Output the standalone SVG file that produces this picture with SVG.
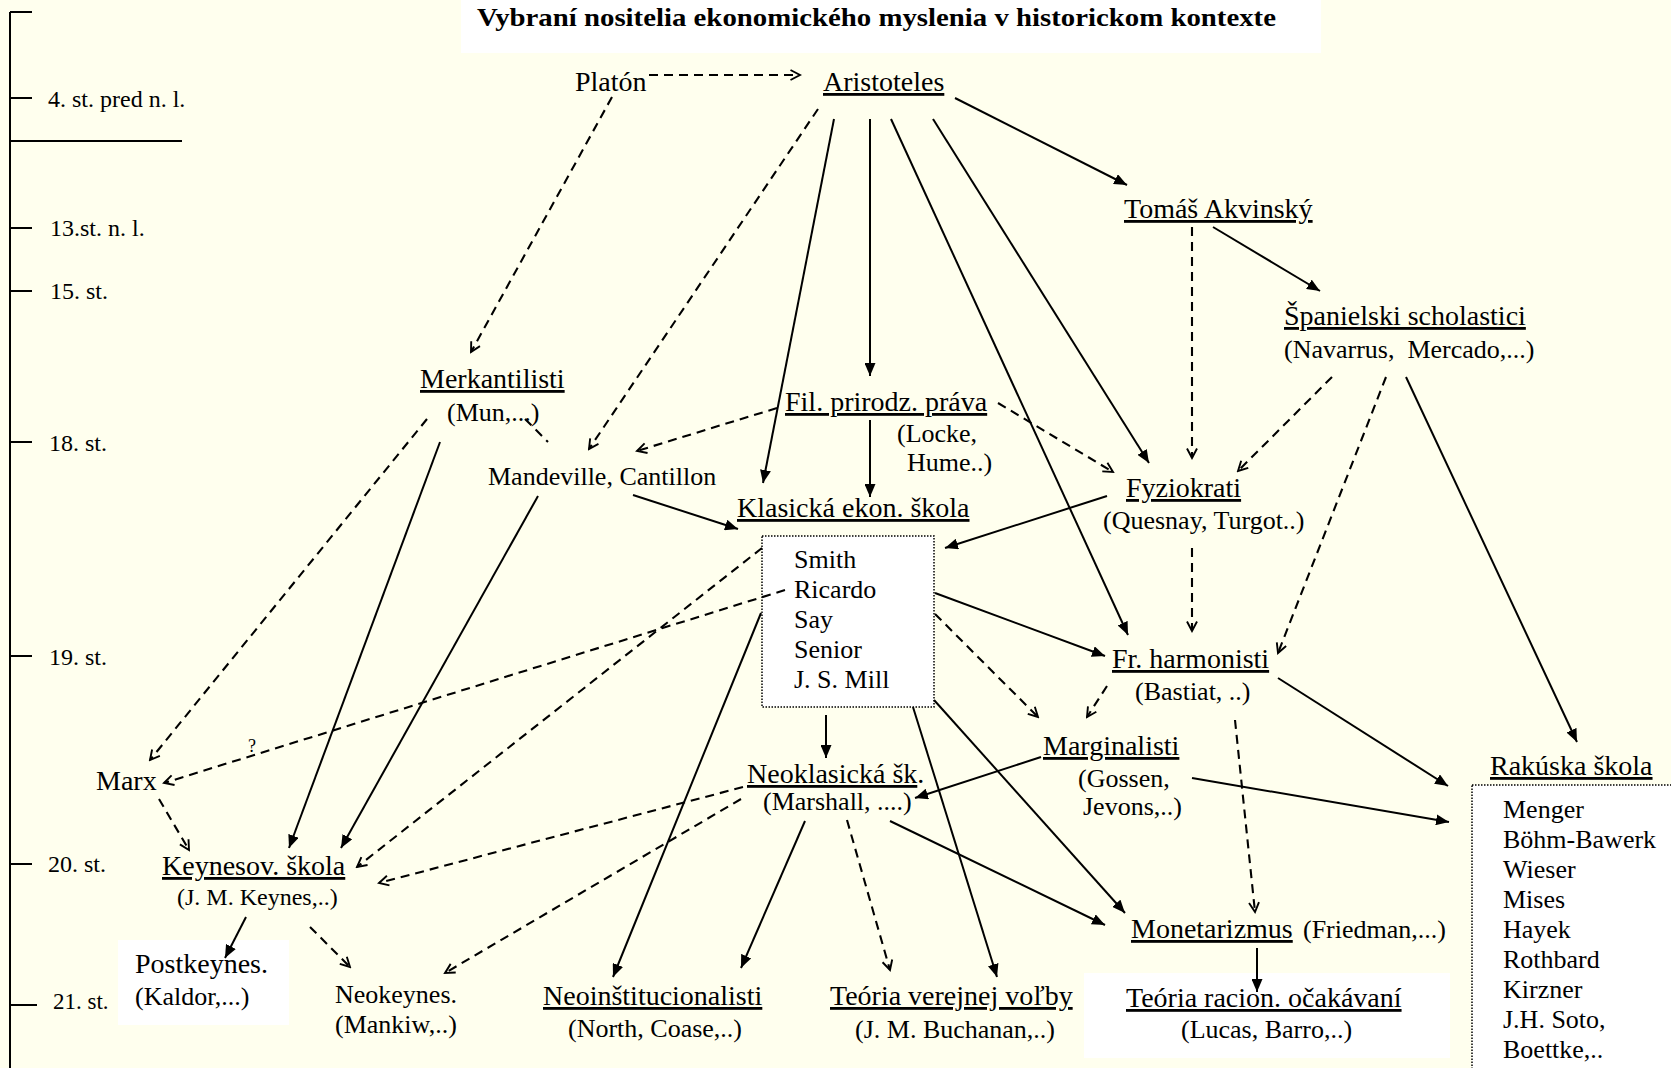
<svg xmlns="http://www.w3.org/2000/svg" width="1671" height="1068" viewBox="0 0 1671 1068">
<style>
text{font-family:"Liberation Serif","Times New Roman",serif;fill:#000}
.m{font-size:28px}
.s{font-size:26px}
.t{font-size:24px}
.u{text-decoration:underline}
.c{stroke:#000;stroke-width:2;fill:none}
.d{stroke-dasharray:9 6;stroke-width:2.1}
.ax{stroke:#000;stroke-width:2;fill:none}
.box{fill:#fff;stroke:#000;stroke-width:1.5;stroke-dasharray:1.5 1.5}
</style>
<defs>
<marker id="ah" markerUnits="userSpaceOnUse" markerWidth="13" markerHeight="11" viewBox="0 0 13 11" refX="13" refY="5.5" orient="auto"><path d="M0,0 L13,5.5 L0,11 Z" fill="#000"/></marker>
<marker id="ao" markerUnits="userSpaceOnUse" markerWidth="13" markerHeight="13" viewBox="-1 -1 13 13" refX="10" refY="5.5" orient="auto"><path d="M0.5,0.5 L10,5.5 L0.5,10.5" fill="none" stroke="#000" stroke-width="1.9"/></marker>
</defs>
<rect x="0" y="0" width="1671" height="1068" fill="#FFFFEE"/>

<g id="timeline">
<path class="ax" d="M10,12 V1068 M10,12 H32 M10,98 H32 M10,141 H182 M10,228 H32 M10,291 H32 M10,442 H32 M10,656 H32 M10,864 H32 M10,1005 H37"/>
<text class="t" x="48" y="107">4. st. pred n. l.</text>
<text class="t" x="50" y="236">13.st. n. l.</text>
<text class="t" x="50" y="299">15. st.</text>
<text class="t" x="49" y="451">18. st.</text>
<text class="t" x="49" y="665">19. st.</text>
<text class="t" x="48" y="872">20. st.</text>
<text class="t" x="53" y="1009" style="font-size:23px">21. st.</text>
</g>

<g id="title">
<rect x="461" y="0" width="860" height="53" fill="#fff"/>
<text x="477" y="26" style="font-size:26px;font-weight:bold" textLength="799" lengthAdjust="spacingAndGlyphs">Vybraní nositelia ekonomického myslenia v historickom kontexte</text>
</g>

<g id="platon"><text class="m" x="575" y="91">Platón</text></g>
<g id="aristoteles"><text class="m u" x="823" y="91">Aristoteles</text></g>
<g id="tomas"><text class="m u" x="1124" y="218">Tomáš Akvinský</text></g>
<g id="spanielski">
<text class="m u" x="1284" y="325">Španielski scholastici</text>
<text class="s" x="1284" y="358" xml:space="preserve">(Navarrus,  Mercado,...)</text>
</g>
<g id="merkantilisti">
<text class="m u" x="420" y="388">Merkantilisti</text>
<text class="s" x="447" y="421">(Mun,...)</text>
</g>
<g id="filozofia">
<text class="m u" x="785" y="411">Fil. prirodz. práva</text>
<text class="s" x="897" y="442">(Locke,</text>
<text class="s" x="907" y="471">Hume..)</text>
</g>
<g id="mandeville"><text class="s" x="488" y="485">Mandeville, Cantillon</text></g>
<g id="klasicka">
<text class="m u" x="737" y="517">Klasická ekon. škola</text>
<rect class="box" x="762" y="536" width="172" height="171"/>
<text class="s" x="794" y="568">Smith</text>
<text class="s" x="794" y="598">Ricardo</text>
<text class="s" x="794" y="628">Say</text>
<text class="s" x="794" y="658">Senior</text>
<text class="s" x="794" y="688">J. S. Mill</text>
</g>
<g id="fyziokrati">
<text class="m u" x="1126" y="497">Fyziokrati</text>
<text class="s" x="1103" y="529">(Quesnay, Turgot..)</text>
</g>
<g id="harmonisti">
<text class="m u" x="1112" y="668">Fr. harmonisti</text>
<text class="s" x="1135" y="700">(Bastiat, ..)</text>
</g>
<g id="marginalisti">
<text class="m u" x="1043" y="755">Marginalisti</text>
<text class="s" x="1078" y="787">(Gossen,</text>
<text class="s" x="1083" y="815">Jevons,..)</text>
</g>
<g id="neoklasicka">
<text class="m" x="747" y="783"><tspan class="u">Neoklasická šk</tspan>.</text>
<text class="s" x="763" y="810">(Marshall, ....)</text>
</g>
<g id="marx"><text class="m" x="96" y="790">Marx</text></g>
<g id="keynesov">
<text class="m u" x="162" y="875">Keynesov. škola</text>
<text class="t" x="177" y="905">(J. M. Keynes,..)</text>
</g>
<g id="postkeynes">
<rect x="118" y="940" width="171" height="85" fill="#fff"/>
<text class="m" x="135" y="973">Postkeynes.</text>
<text class="s" x="135" y="1005">(Kaldor,...)</text>
</g>
<g id="neokeynes">
<text class="s" x="335" y="1003">Neokeynes.</text>
<text class="s" x="335" y="1033">(Mankiw,..)</text>
</g>
<g id="neoinstitucionalisti">
<text class="m u" x="543" y="1005">Neoinštitucionalisti</text>
<text class="s" x="568" y="1037">(North, Coase,..)</text>
</g>
<g id="verejna">
<text class="m u" x="830" y="1005">Teória verejnej voľby</text>
<text class="s" x="855" y="1038">(J. M. Buchanan,..)</text>
</g>
<g id="monetarizmus">
<text class="m u" x="1131" y="938">Monetarizmus</text>
<text class="s" x="1303" y="938">(Friedman,...)</text>
</g>
<g id="racionalne">
<rect x="1084" y="973" width="366" height="85" fill="#fff"/>
<text class="m u" x="1126" y="1007">Teória racion. očakávaní</text>
<text class="s" x="1181" y="1038">(Lucas, Barro,..)</text>
</g>
<g id="rakuska">
<text class="m u" x="1490" y="775">Rakúska škola</text>
<rect class="box" x="1472" y="785" width="220" height="300"/>
<text class="s" x="1503" y="818">Menger</text>
<text class="s" x="1503" y="848">Böhm-Bawerk</text>
<text class="s" x="1503" y="878">Wieser</text>
<text class="s" x="1503" y="908">Mises</text>
<text class="s" x="1503" y="938">Hayek</text>
<text class="s" x="1503" y="968">Rothbard</text>
<text class="s" x="1503" y="998">Kirzner</text>
<text class="s" x="1503" y="1028">J.H. Soto,</text>
<text class="s" x="1503" y="1058">Boettke,..</text>
</g>

<g id="connectors">
<g class="c d">
<path d="M649,75 L800,75" marker-end="url(#ao)"/>
<path d="M612,97 L471,352" marker-end="url(#ao)"/>
<path d="M818,109 L589,449" marker-end="url(#ao)"/>
<path d="M777,408 L637,451" marker-end="url(#ao)"/>
<path d="M998,403 L1113,472" marker-end="url(#ao)"/>
<path d="M1192,227 L1192,458" marker-end="url(#ao)"/>
<path d="M1332,377 L1238,471" marker-end="url(#ao)"/>
<path d="M1386,377 L1278,653" marker-end="url(#ao)"/>
<path d="M1192,548 L1192,631" marker-end="url(#ao)"/>
<path d="M427,419 L150,760" marker-end="url(#ao)"/>
<path d="M525,419 L548,442"/>
<path d="M762,548 L357,867" marker-end="url(#ao)"/>
<path d="M785,590 L164,783" marker-end="url(#ao)"/>
<path d="M935,614 L1038,717" marker-end="url(#ao)"/>
<path d="M1107,686 L1087,717" marker-end="url(#ao)"/>
<path d="M1235,720 L1255,912" marker-end="url(#ao)"/>
<path d="M159,799 L189,850" marker-end="url(#ao)"/>
<path d="M743,787 L379,883" marker-end="url(#ao)"/>
<path d="M741,799 L445,973" marker-end="url(#ao)"/>
<path d="M847,820 L890,970" marker-end="url(#ao)"/>
<path d="M310,927 L350,967" marker-end="url(#ao)"/>
</g>
<g class="c" marker-end="url(#ah)">
<path d="M955,98 L1127,185"/>
<path d="M834,119 L763,483"/>
<path d="M870,119 L870,376"/>
<path d="M891,119 L1128,635"/>
<path d="M933,119 L1149,463"/>
<path d="M1213,227 L1320,291"/>
<path d="M870,420 L870,497"/>
<path d="M633,495 L738,529"/>
<path d="M440,442 L289,848"/>
<path d="M538,496 L341,848"/>
<path d="M1107,496 L945,548"/>
<path d="M935,593 L1105,656"/>
<path d="M1406,377 L1577,742"/>
<path d="M1278,678 L1448,786"/>
<path d="M1192,778 L1449,822"/>
<path d="M1041,757 L915,798"/>
<path d="M826,715 L826,758"/>
<path d="M761,613 L613,977"/>
<path d="M913,707 L997,977"/>
<path d="M934,700 L1125,913"/>
<path d="M805,821 L741,968"/>
<path d="M890,821 L1105,925"/>
<path d="M246,917 L225,958"/>
<path d="M1257,948 L1257,992"/>
</g>
<text x="248" y="752" style="font-size:18px">?</text>
</g>
</svg>
